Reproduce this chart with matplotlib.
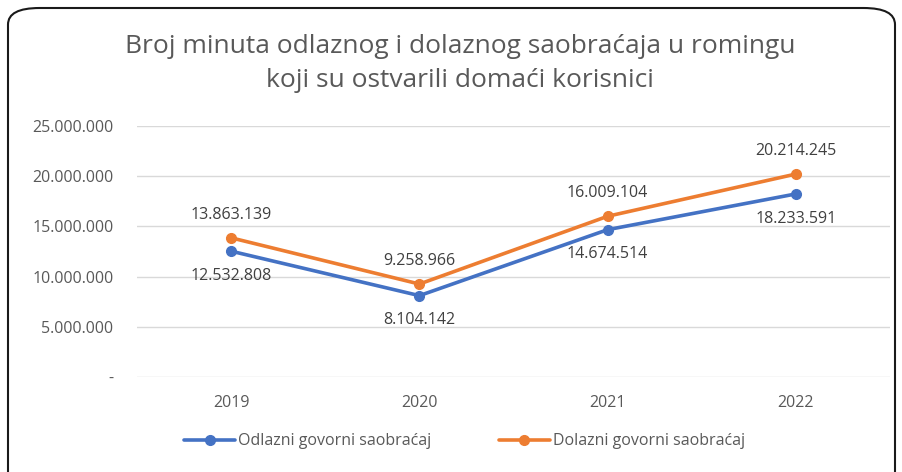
import matplotlib.pyplot as plt
from matplotlib.patches import FancyBboxPatch

years = ["2019", "2020", "2021", "2022"]
odlazni = [12532808, 8104142, 14674514, 18233591]
dolazni = [13863139, 9258966, 16009104, 20214245]
yticks = [0, 5000000, 10000000, 15000000, 20000000, 25000000]

blue = "#4472C4"
orange = "#ED7D31"
txt = "#595959"


def fmt(v):
    if v == 0:
        return "-"
    return f"{v:,}".replace(",", ".")


plt.rcParams["font.family"] = ["Open Sans", "DejaVu Sans"]

fig = plt.figure(figsize=(9.02, 4.72), dpi=100)
# rounded frame around chart
frame = FancyBboxPatch((8 / 902, -20 / 472), 887 / 902, 484 / 472,
                       boxstyle="round,pad=0,rounding_size=0.035",
                       transform=fig.transFigure, facecolor="white",
                       edgecolor="#1a1a1a", linewidth=1.5, zorder=-5)
fig.patches.append(frame)

ax = fig.add_axes([137 / 902, 95 / 472, 753 / 902, 251 / 472])
ax.set_zorder(2)
ax.set_facecolor("none")
x = range(len(years))
ax.plot(x, odlazni, color=blue, lw=2.6, marker="o", ms=7, label="Odlazni govorni saobraćaj",
        solid_capstyle="round")
ax.plot(x, dolazni, color=orange, lw=2.6, marker="o", ms=7, label="Dolazni govorni saobraćaj",
        solid_capstyle="round")

for i, v in enumerate(odlazni):
    ax.annotate(fmt(v), (i, v), xytext=(0, -12), textcoords="offset points",
                ha="center", va="top", fontsize=11.5, color="#404040")
for i, v in enumerate(dolazni):
    ax.annotate(fmt(v), (i, v), xytext=(0, 11), textcoords="offset points",
                ha="center", va="bottom", fontsize=11.5, color="#404040")

ax.set_xlim(-0.5, 3.5)
ax.set_ylim(0, 25000000)
ax.set_yticks(yticks)
ax.set_yticklabels([fmt(v) for v in yticks])
ax.set_xticks(list(x))
ax.set_xticklabels(years)
ax.grid(axis="y", color="#d9d9d9", lw=1)
ax.set_axisbelow(True)
for s in ax.spines.values():
    s.set_visible(False)
ax.tick_params(length=0, colors=txt, labelsize=11.5)
ax.tick_params(axis="y", pad=17)
ax.tick_params(axis="x", pad=13)

fig.text(0.51, 0.866, "Broj minuta odlaznog i dolaznog saobraćaja u romingu\nkoji su ostvarili domaći korisnici",
         ha="center", va="center", fontsize=19, color=txt, linespacing=1.45)

fig.legend(loc="center", bbox_to_anchor=(0.515, 0.065), ncol=2, frameon=False,
           fontsize=11.5, labelcolor=txt, handlelength=3.2, columnspacing=4.2, handletextpad=0.2)

fig.savefig("out.png", dpi=100)
